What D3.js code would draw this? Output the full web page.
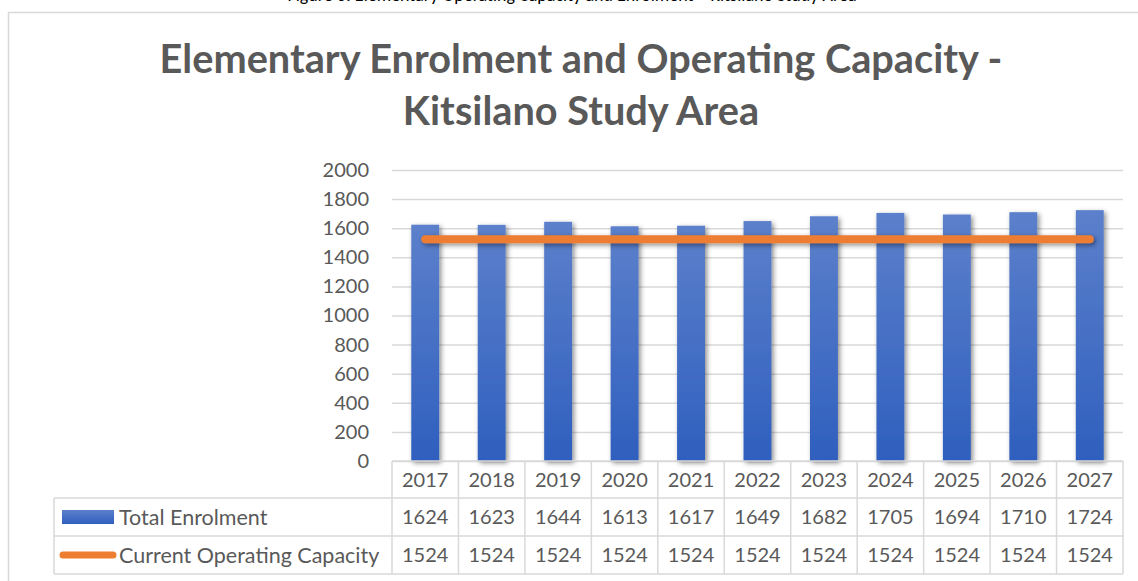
<!DOCTYPE html>
<html>
<head>
<meta charset="utf-8">
<script src="https://cdn.jsdelivr.net/npm/d3@7"></script>
<style>
  body { margin: 0; background: #fff; }
  svg { display: block; }
</style>
</head>
<body>
<div id="chart"></div>
<script>
// data
const years = ["2017", "2018", "2019", "2020", "2021", "2022", "2023", "2024", "2025", "2026", "2027"]
const enrolment = [1624, 1623, 1644, 1613, 1617, 1649, 1682, 1705, 1694, 1710, 1724]
const capacity = [1524, 1524, 1524, 1524, 1524, 1524, 1524, 1524, 1524, 1524, 1524]
const seriesNames = ["Total Enrolment", "Current Operating Capacity"]
const yTicks = [0, 200, 400, 600, 800, 1000, 1200, 1400, 1600, 1800, 2000]
const titleLines = ["Elementary Enrolment and Operating Capacity -", "Kitsilano Study Area"]
const captionText = "Figure 6: Elementary Operating Capacity and Enrolment \u2013 Kitsilano Study Area"

const width = 1138, height = 581
const textColor = "#595959"
const gridColor = "#d9d9d9"
const font = "Lato, 'Open Sans', sans-serif"

const svg = d3.select("#chart").append("svg")
    .attr("width", width)
    .attr("height", height)

// gradient + shadows
const defs = svg.append("defs")
const grad = defs.append("linearGradient")
    .attr("id", "barGrad")
    .attr("x1", 0).attr("y1", 0).attr("x2", 0).attr("y2", 1)
grad.append("stop").attr("offset", "0%").attr("stop-color", "#5c80cb")
grad.append("stop").attr("offset", "100%").attr("stop-color", "#2f5fbe")

function addShadow(id) {
    const f = defs.append("filter")
        .attr("id", id)
        .attr("filterUnits", "userSpaceOnUse")
        .attr("x", 0).attr("y", 0).attr("width", width).attr("height", height)
    f.append("feDropShadow")
        .attr("dx", 2).attr("dy", 2)
        .attr("stdDeviation", 2.5)
        .attr("flood-color", "#000")
        .attr("flood-opacity", 0.45)
}
addShadow("shadow")

// caption line cut off at top of the picture
svg.append("text")
    .attr("x", 572)
    .attr("y", 0.5)
    .attr("text-anchor", "middle")
    .style("font-family", "Calibri, Carlito, Lato, sans-serif")
    .style("font-size", "18px")
    .style("fill", "#000")
    .text(captionText)

// chart frame
svg.append("rect")
    .attr("x", 8.5)
    .attr("y", 12.5)
    .attr("width", 1140)
    .attr("height", 600)
    .style("fill", "#fff")
    .style("stroke", gridColor)
    .style("stroke-width", 1.5)

// title
const title = svg.append("g")
titleLines.forEach((t, i) => {
    title.append("text")
        .attr("x", 581)
        .attr("y", i == 0 ? 73 : 125)
        .attr("text-anchor", "middle")
        .style("font-family", font)
        .style("font-weight", 700)
        .style("font-size", "38px")
        .style("fill", textColor)
        .text(t)
})
// fit first line to width seen in the reference (~843px)
let firstLen = title.select("text").node().getComputedTextLength()
let titleSize = 38 * 843 / firstLen
title.selectAll("text").style("font-size", titleSize + "px")

// scales
const plotLeft = 392, plotRight = 1123
const x = d3.scaleBand()
    .domain(years)
    .range([plotLeft, plotRight])
    .paddingInner(0.58)
    .paddingOuter(0.29)

const xCell = d3.scaleBand()
    .domain(years)
    .range([plotLeft, plotRight])

const y = d3.scaleLinear()
    .domain([0, 2000])
    .range([461, 170])

// y axis + gridlines
const yAxis = svg.append("g")
    .attr("transform", "translate(" + plotLeft + ",0)")
    .call(d3.axisLeft(y)
        .tickValues(yTicks)
        .tickFormat(d3.format("d"))
        .tickSize(-(plotRight - plotLeft))
        .tickPadding(23))
yAxis.select(".domain").remove()
yAxis.selectAll(".tick line")
    .style("stroke", gridColor)
    .style("stroke-width", 1.5)
yAxis.selectAll(".tick text")
    .style("font-family", font)
    .style("font-size", "20px")
    .style("fill", textColor)

// bars
svg.selectAll(".bar")
    .data(enrolment)
    .enter()
    .append("rect")
    .attr("class", "bar")
    .attr("x", (d, i) => x(years[i]))
    .attr("y", d => y(d))
    .attr("width", x.bandwidth())
    .attr("height", d => y(0) - y(d))
    .style("fill", "url(#barGrad)")
    .style("filter", "url(#shadow)")

// capacity line
const line = d3.line()
    .x((d, i) => x(years[i]) + x.bandwidth() / 2)
    .y(d => y(d))

svg.append("path")
    .datum(capacity)
    .attr("d", line)
    .style("fill", "none")
    .style("stroke", "#ed7d31")
    .style("stroke-width", 8)
    .style("stroke-linecap", "round")
    .style("filter", "url(#shadow)")

// data table
const rowTops = [461, 498, 536, 574]
const legendLeft = 54
const table = svg.append("g")
    .style("font-family", font)
    .style("font-size", "20px")
    .style("fill", textColor)

// horizontal rules
table.append("line")
    .attr("x1", plotLeft).attr("x2", plotRight)
    .attr("y1", rowTops[0]).attr("y2", rowTops[0])
for (let r = 1; r < rowTops.length; r++) {
    table.append("line")
        .attr("x1", legendLeft).attr("x2", plotRight)
        .attr("y1", rowTops[r]).attr("y2", rowTops[r])
}
// vertical rules
years.forEach(yr => {
    table.append("line")
        .attr("x1", xCell(yr)).attr("x2", xCell(yr))
        .attr("y1", rowTops[0]).attr("y2", rowTops[3])
})
table.append("line")
    .attr("x1", plotRight).attr("x2", plotRight)
    .attr("y1", rowTops[0]).attr("y2", rowTops[3])
table.append("line")
    .attr("x1", legendLeft).attr("x2", legendLeft)
    .attr("y1", rowTops[1]).attr("y2", rowTops[3])
table.selectAll("line")
    .style("stroke", gridColor)
    .style("stroke-width", 1.5)

// cell texts
const rows = [years, enrolment, capacity]
rows.forEach((vals, r) => {
    table.selectAll(".row" + r)
        .data(vals)
        .enter()
        .append("text")
        .attr("class", "row" + r)
        .attr("x", (d, i) => xCell(years[i]) + xCell.bandwidth() / 2)
        .attr("y", (rowTops[r] + rowTops[r + 1]) / 2)
        .attr("dy", "0.36em")
        .attr("text-anchor", "middle")
        .text(d => d)
})

// legend keys
table.append("rect")
    .attr("x", 62).attr("y", 510)
    .attr("width", 52).attr("height", 14)
    .style("fill", "url(#barGrad)")
table.append("line")
    .attr("x1", 63).attr("x2", 113)
    .attr("y1", 555).attr("y2", 555)
    .style("stroke", "#ed7d31")
    .style("stroke-width", 7)
    .style("stroke-linecap", "round")

seriesNames.forEach((s, i) => {
    table.append("text")
        .attr("x", 119)
        .attr("y", (rowTops[i + 1] + rowTops[i + 2]) / 2)
        .attr("dy", "0.36em")
        .style("font-size", "21.5px")
        .text(s)
})
</script>
</body>
</html>
